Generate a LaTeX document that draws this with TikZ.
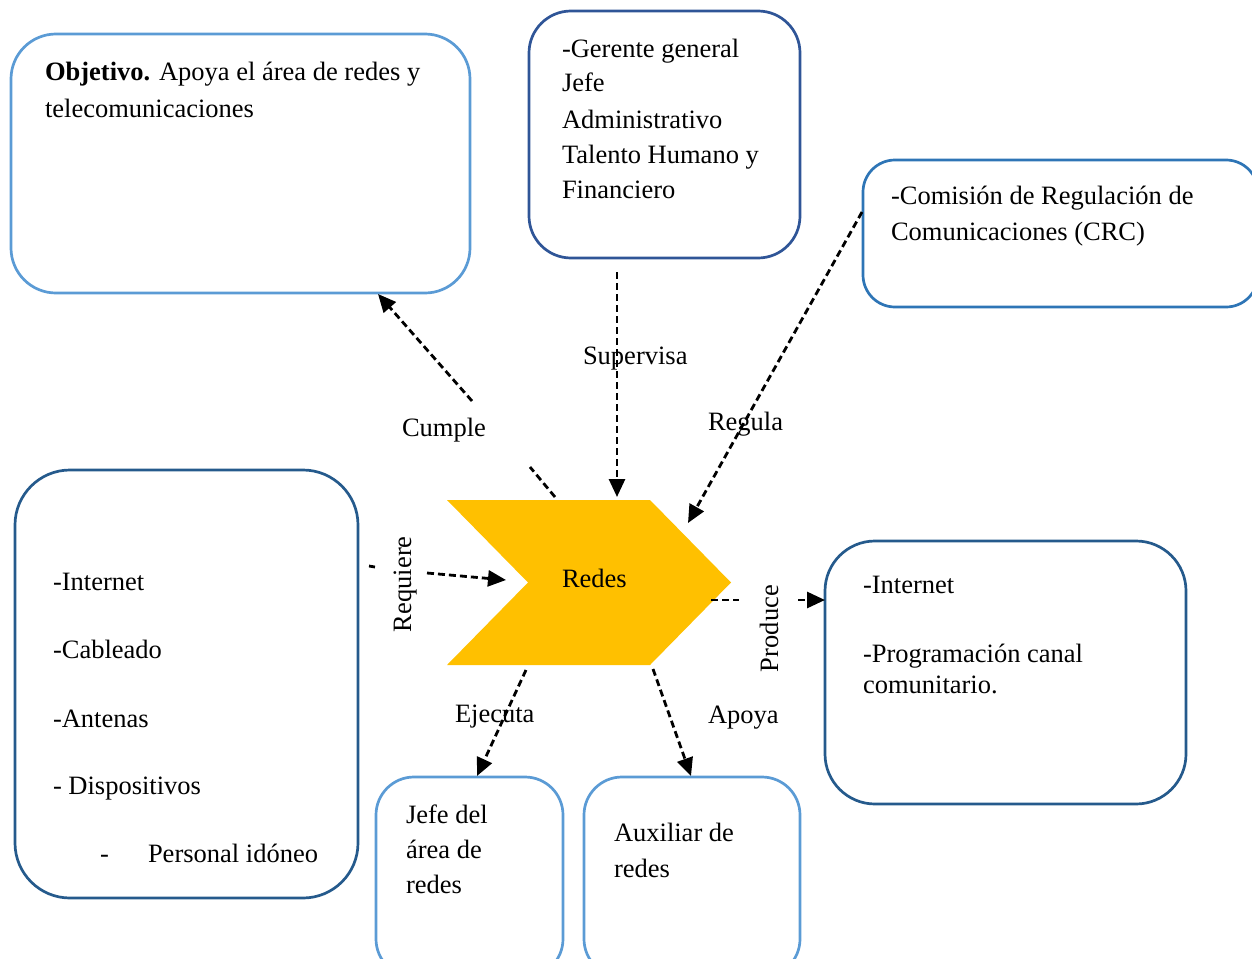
\documentclass[tikz,border=0pt]{standalone}
\usepackage{fontspec}
\setmainfont{Liberation Serif}
\usetikzlibrary{arrows.meta}
\definecolor{boxlight}{HTML}{5B9BD5}
\definecolor{boxmid}{HTML}{2E75B6}
\definecolor{boxnavy}{HTML}{2F5597}
\definecolor{boxdeep}{HTML}{255A8C}
\definecolor{chevronfill}{HTML}{FFC000}

\begin{document}
\begin{tikzpicture}[x=1pt,y=-1pt,
  every node/.style={font=\fontsize{26.5}{35}\selectfont, inner sep=0pt, outer sep=0pt},
  card/.style={draw, line width=2.7pt, rounded corners=#1},
  txt/.style={anchor=base west},
  link/.style={line width=2.8pt, dash pattern=on 7pt off 4pt},
  arrowlink/.style={link, -{Triangle[length=18pt,width=16pt]}}
]
\useasboundingbox (0,0) rectangle (1252,958);

% rounded boxes
\node[card=45pt, boxlight, minimum width=459pt, minimum height=259pt] (obj) at (240.5,163.5) {};
\node[card=42pt, boxnavy, minimum width=271pt, minimum height=247pt] (ger) at (664.5,134.5) {};
\node[card=32pt, boxmid, minimum width=395pt, minimum height=147pt] (crc) at (1060.5,233.5) {};
\node[card=55pt, boxdeep, minimum width=343pt, minimum height=428pt] (req) at (186.5,684) {};
\node[card=50pt, boxdeep, minimum width=361pt, minimum height=263pt] (prod) at (1005.5,672.5) {};
\node[card=38pt, boxlight, minimum width=187pt, minimum height=200pt] (jefe) at (469.5,877) {};
\node[card=38pt, boxlight, minimum width=216pt, minimum height=200pt] (aux) at (692,877) {};

% central chevron
\fill[chevronfill] (447,500) -- (650,500) -- (731,582.5) -- (650,665) -- (447,665) -- (528,582.5) -- cycle;
\node[txt] (redes) at (562,587) {Redes};

% box texts
\node[txt] (objA) at (45,81) {\textbf{Objetivo.} Apoya el área de redes y};
\node[txt] (objB) at (45,117) {telecomunicaciones};

\node[txt] (gerA) at (562,58) {-Gerente general};
\node[txt] (gerB) at (562,92) {Jefe};
\node[txt] (gerC) at (562,128) {Administrativo};
\node[txt] (gerD) at (562,163) {Talento Humano y};
\node[txt] (gerE) at (562,198) {Financiero};

\node[txt] (crcA) at (891,204) {-Comisión de Regulación de};
\node[txt] (crcB) at (891,240) {Comunicaciones (CRC)};

\node[txt] (reqA) at (53,590) {-Internet};
\node[txt] (reqB) at (53,658) {-Cableado};
\node[txt] (reqC) at (53,727) {-Antenas};
\node[txt] (reqD) at (53,794) {- Dispositivos};
\node[txt] (reqE) at (100,862) {-};
\node[txt] (reqF) at (148,862) {Personal idóneo};

\node[txt] (prodA) at (863,593) {-Internet};
\node[txt] (prodB) at (863,662) {-Programación canal};
\node[txt] (prodC) at (863,693) {comunitario.};

\node[txt] (jefeA) at (406,823) {Jefe del};
\node[txt] (jefeB) at (406,858) {área de};
\node[txt] (jefeC) at (406,893) {redes};

\node[txt] (auxA) at (614,841) {Auxiliar de};
\node[txt] (auxB) at (614,877) {redes};

% connector labels
\node[txt] (lCumple) at (402,436) {Cumple};
\node[txt] (lSuper) at (583,364) {Supervisa};
\node[txt] (lRegula) at (708,430) {Regula};
\node[txt] (lEjec) at (455,722) {Ejecuta};
\node[txt] (lApoya) at (708,723) {Apoya};
\node[txt, rotate=90] (lReq) at (411,632) {Requiere};
\node[txt, rotate=90] (lProd) at (778,672) {Produce};

% connector end points
\coordinate (cuA) at (555,497);
\coordinate (cuB) at (530,467);
\coordinate (cuC) at (472,401);
\coordinate (cuD) at (378,294);
\coordinate (suA) at (617,272);
\coordinate (suB) at (617,497);
\coordinate (reA) at (862,212);
\coordinate (reB) at (688,523);
\coordinate (rqA) at (369,566);
\coordinate (rqB) at (375,567);
\coordinate (rqC) at (427,573);
\coordinate (rqD) at (506,580);
\coordinate (prA) at (711,600);
\coordinate (prB) at (739,600);
\coordinate (prC) at (798,600);
\coordinate (prD) at (825,600);
\coordinate (ejA) at (526,670);
\coordinate (ejB) at (477,776);
\coordinate (apA) at (653,669);
\coordinate (apB) at (691,776);

% connectors
\draw[link] (cuA) -- (cuB);
\draw[arrowlink] (cuC) -- (cuD);
\draw[arrowlink] (suA) -- (suB);
\draw[arrowlink] (reA) -- (reB);
\draw[line width=2.8pt] (rqA) -- (rqB);
\draw[arrowlink] (rqC) -- (rqD);
\draw[link] (prA) -- (prB);
\draw[arrowlink] (prC) -- (prD);
\draw[arrowlink] (ejA) -- (ejB);
\draw[arrowlink] (apA) -- (apB);
\end{tikzpicture}
\end{document}
